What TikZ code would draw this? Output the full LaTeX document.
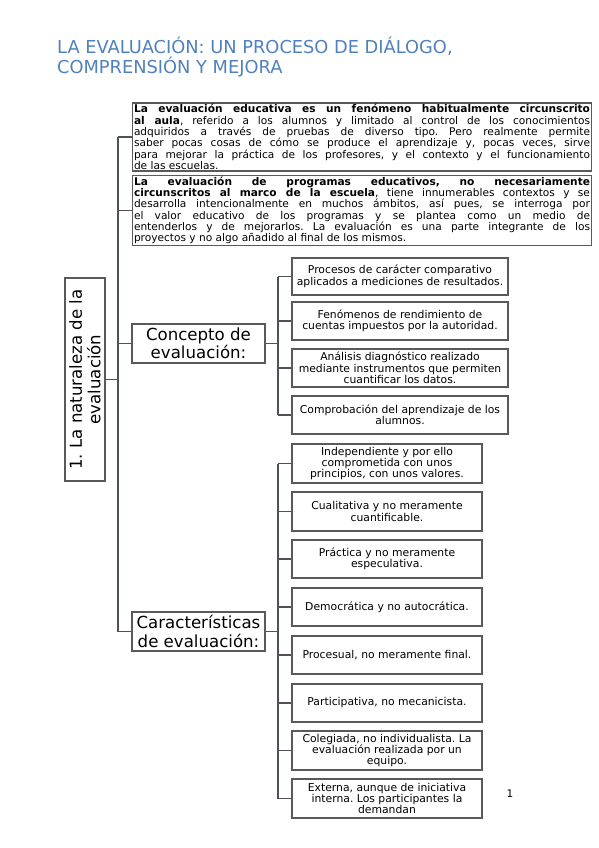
\documentclass[tikz,border=0pt]{standalone}
\usepackage{fontspec}
\setmainfont{DejaVu Sans}
\frenchspacing
\definecolor{titleblue}{RGB}{79,129,189}
\definecolor{boxedge}{RGB}{90,90,90}
\definecolor{linkc}{RGB}{75,82,90}
\begin{document}
\begin{tikzpicture}[x=1pt,y=-1pt,
  box/.style={draw=boxedge, line width=1.3pt, inner sep=1pt, align=center, fill=white,
    font=\fontsize{10.8}{11.4}\selectfont},
  tbox/.style={draw=boxedge, line width=1.3pt, inner sep=1.5pt, align=justify, text width=456pt,
    font=\fontsize{10.6}{11.3}\selectfont\frenchspacing},
  big/.style={box, font=\fontsize{16.6}{18.5}\selectfont},
  link/.style={draw=linkc, line width=1.3pt}]
\useasboundingbox (0,0) rectangle (599,848);

\node[anchor=north west, inner sep=0, align=left, text=titleblue,
  font=\fontsize{17.8}{19.5}\selectfont] (title) at (57,37)
  {LA EVALUACIÓN: UN PROCESO DE DIÁLOGO,\\COMPRENSIÓN Y MEJORA};

\node[big, rotate=90, minimum width=203pt, minimum height=40pt] (root) at (85,379.5)
  {1. La naturaleza de la\\evaluación};

\node[tbox, minimum height=68pt] (t1) at (362,137)
  {\textbf{La evaluación educativa es un fenómeno habitualmente circunscrito\linebreak al aula}, referido a los alumnos y limitado al control de los conocimientos\linebreak adquiridos a través de pruebas de diverso tipo. Pero realmente permite\linebreak saber pocas cosas de cómo se produce el aprendizaje y, pocas veces, sirve\linebreak para mejorar la práctica de los profesores, y el contexto y el funcionamiento\linebreak de las escuelas.};
\node[tbox, minimum height=65pt] (t2) at (362,210.5)
  {\textbf{La evaluación de programas educativos, no necesariamente\linebreak circunscritos al marco de la escuela}, tiene innumerables contextos y se\linebreak desarrolla intencionalmente en muchos ámbitos, así pues, se interroga por\linebreak el valor educativo de los programas y se plantea como un medio de\linebreak entenderlos y de mejorarlos. La evaluación es una parte integrante de los\linebreak proyectos y no algo añadido al final de los mismos.};

\node[big, minimum width=133pt, minimum height=39pt] (con) at (198.5,343.5)
  {Concepto de\\evaluación:};
\node[big, minimum width=133pt, minimum height=39pt] (car) at (198.5,631.5)
  {Características\\de evaluación:};

\node[box, minimum width=216pt, minimum height=37pt] (c1) at (400,276.5)
  {Procesos de carácter comparativo\\aplicados a mediciones de resultados.};
\node[box, minimum width=216pt, minimum height=38pt] (c2) at (400,321)
  {Fenómenos de rendimiento de\\cuentas impuestos por la autoridad.};
\node[box, minimum width=216pt, minimum height=38pt] (c3) at (400,368)
  {Análisis diagnóstico realizado\\mediante instrumentos que permiten\\cuantificar los datos.};
\node[box, minimum width=216pt, minimum height=38pt] (c4) at (400,415)
  {Comprobación del aprendizaje de los\\alumnos.};

\node[box, minimum width=190pt, minimum height=39pt] (k1) at (387,463.5)
  {Independiente y por ello\\comprometida con unos\\principios, con unos valores.};
\node[box, minimum width=190pt, minimum height=39pt] (k2) at (387,511.5)
  {Cualitativa y no meramente\\cuantificable.};
\node[box, minimum width=190pt, minimum height=38pt] (k3) at (387,559)
  {Práctica y no meramente\\especulativa.};
\node[box, minimum width=190pt, minimum height=38pt] (k4) at (387,607)
  {Democrática y no autocrática.};
\node[box, minimum width=190pt, minimum height=38pt] (k5) at (387,655)
  {Procesual, no meramente final.};
\node[box, minimum width=190pt, minimum height=38pt] (k6) at (387,703)
  {Participativa, no mecanicista.};
\node[box, minimum width=190pt, minimum height=39pt] (k7) at (387,750.5)
  {Colegiada, no individualista. La\\evaluación realizada por un\\equipo.};
\node[box, minimum width=190pt, minimum height=39pt] (k8) at (387,798.5)
  {Externa, aunque de iniciativa\\interna. Los participantes la\\demandan};

\node[font=\fontsize{10.5}{12}\selectfont, inner sep=0] (pg) at (510,794) {1};

\coordinate (trunk) at (118,0);
\coordinate (cb) at (278,0);

\path[link] (root.south) -- (root.south -| trunk);
\path[link] (t1.west) -- (t1.west -| trunk);
\path[link] (t2.west) -- (t2.west -| trunk);
\path[link] (con.west) -- (con.west -| trunk);
\path[link] (t1.west -| trunk) |- (car.west);

\path[link] (con.east) -- (con.east -| cb);
\path[link] (c1.west -| cb) -- (c4.west -| cb);
\foreach \n in {c1,c2,c3,c4} \path[link] (\n.west) -- (\n.west -| cb);

\path[link] (car.east) -- (car.east -| cb);
\path[link] (k1.west -| cb) -- (k8.west -| cb);
\foreach \n in {k1,k2,k3,k4,k5,k6,k7,k8} \path[link] (\n.west) -- (\n.west -| cb);
\end{tikzpicture}
\end{document}
